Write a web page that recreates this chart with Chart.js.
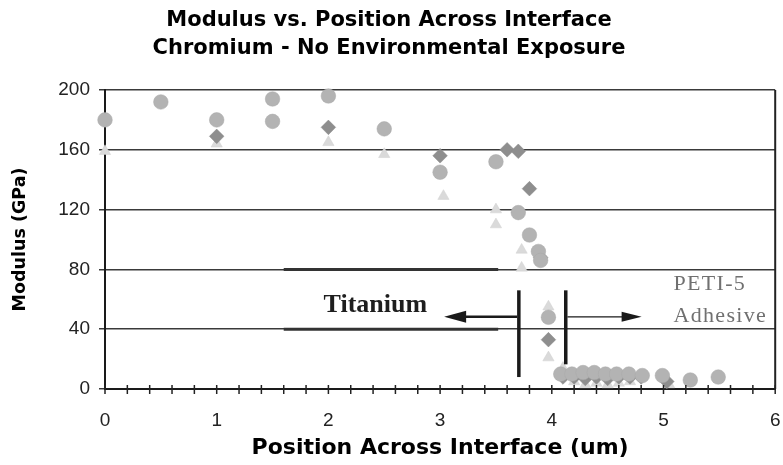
<!DOCTYPE html>
<html><head><meta charset="utf-8">
<script src="https://cdn.jsdelivr.net/npm/chart.js@4"></script>
<style>html,body{margin:0;padding:0;background:#fff}#wrap{width:783px;height:465px}</style>
</head><body><div id="wrap"><canvas id="c" width="783" height="465"></canvas></div>
<script>
const titleLines = ['Modulus vs. Position Across Interface', 'Chromium - No Environmental Exposure'];
const xTitle = 'Position Across Interface (um)';
const yTitle = 'Modulus (GPa)';
const yTicks = [0, 40, 80, 120, 160, 200];
const xTicks = [0, 1, 2, 3, 4, 5, 6];
const xMinorPerUnit = 5;

// series 1: circles
const circleX = [0, 0.5, 1, 1.5, 1.5, 2, 2.5, 3, 3.5, 3.7, 3.8, 3.88, 3.9, 3.97, 4.08, 4.18, 4.28, 4.38, 4.48, 4.58, 4.69, 4.81, 4.99, 5.24, 5.49];
const circleY = [180, 192, 180, 194, 179, 196, 174, 145, 152, 118, 103, 92, 86, 48, 10, 10, 11, 11, 10, 10, 10, 9, 9, 6, 8];
// series 2: diamonds
const diamondX = [1, 2, 3, 3.6, 3.7, 3.8, 3.9, 3.97, 4.1, 4.2, 4.3, 4.4, 4.5, 4.6, 4.7, 4.8, 5.03];
const diamondY = [169, 175, 156, 160, 159, 134, 88, 33, 8, 8, 7, 8, 7, 8, 8, 8, 5];
// series 3: triangles
const triangleX = [0, 1, 2, 2.5, 3.03, 3.5, 3.5, 3.73, 3.73, 3.97, 3.97, 4.1, 4.2, 4.3, 4.4, 4.5, 4.6, 4.7, 5.05];
const triangleY = [159, 164, 165, 157, 129, 120, 110, 93, 81, 55, 21, 14, 5, 3, 4, 3, 4, 5, 3];

const zip = (xs, ys) => xs.map((x, i) => ({x, y: ys[i]}));
const SANS = '"DejaVu Sans", Verdana, sans-serif';
const TICKF = '"Liberation Sans", Arial, sans-serif';
const SERIF = '"Liberation Serif", "Times New Roman", serif';

const annotPlugin = {
  id: 'annot',
  beforeDatasetsDraw(chart) {
    const {ctx, scales: {x, y}} = chart;
    ctx.save();
    ctx.strokeStyle = '#333';
    ctx.lineWidth = 3;
    [40, 80].forEach(v => {
      ctx.beginPath();
      ctx.moveTo(x.getPixelForValue(1.6), y.getPixelForValue(v));
      ctx.lineTo(x.getPixelForValue(3.52), y.getPixelForValue(v));
      ctx.stroke();
    });
    ctx.restore();
  },
  afterDatasetsDraw(chart) {
    const {ctx, scales: {x, y}, chartArea: a} = chart;
    const X = v => x.getPixelForValue(v), Y = v => y.getPixelForValue(v);
    ctx.save();
    // right border
    ctx.strokeStyle = '#222'; ctx.lineWidth = 2;
    ctx.beginPath(); ctx.moveTo(X(6), a.top); ctx.lineTo(X(6), a.bottom); ctx.stroke();
    // ticks crossing the x axis
    ctx.lineWidth = 1.5;
    for (let k = 0; k <= (xTicks[xTicks.length - 1] - xTicks[0]) * xMinorPerUnit; k++) {
      const px = X(xTicks[0] + k / xMinorPerUnit);
      ctx.beginPath(); ctx.moveTo(px, a.bottom - 4); ctx.lineTo(px, a.bottom + 5); ctx.stroke();
    }
    // vertical interface bars
    ctx.strokeStyle = '#1a1a1a'; ctx.lineWidth = 3.5;
    ctx.beginPath(); ctx.moveTo(X(3.705), Y(66)); ctx.lineTo(X(3.705), Y(8)); ctx.stroke();
    ctx.beginPath(); ctx.moveTo(X(4.125), Y(66)); ctx.lineTo(X(4.125), Y(16.5)); ctx.stroke();
    // left arrow
    const ay = Y(48.3);
    const lt = X(3.036);
    ctx.fillStyle = '#1a1a1a';
    ctx.lineWidth = 2.5;
    ctx.beginPath(); ctx.moveTo(lt + 18, ay); ctx.lineTo(X(3.69), ay); ctx.stroke();
    ctx.beginPath(); ctx.moveTo(lt, ay); ctx.lineTo(lt + 22, ay - 6); ctx.lineTo(lt + 22, ay + 6); ctx.closePath(); ctx.fill();
    // right arrow
    const rt = X(4.804);
    ctx.lineWidth = 1.2;
    ctx.beginPath(); ctx.moveTo(X(4.14), ay); ctx.lineTo(rt - 15, ay); ctx.stroke();
    ctx.beginPath(); ctx.moveTo(rt, ay); ctx.lineTo(rt - 20, ay - 5); ctx.lineTo(rt - 20, ay + 5); ctx.closePath(); ctx.fill();
    // texts
    ctx.textBaseline = 'alphabetic';
    ctx.fillStyle = '#1e1e1e';
    ctx.font = 'bold 26px ' + SERIF;
    ctx.textAlign = 'center';
    ctx.fillText('Titanium', X(2.42), Y(51.5));
    ctx.fillStyle = '#707070';
    ctx.font = '22px ' + SERIF;
    ctx.textAlign = 'left';
    try { ctx.letterSpacing = '1.3px'; } catch (e) {}
    ctx.fillText('PETI-5', X(5.09), Y(66));
    ctx.fillText('Adhesive', X(5.09), Y(44.9));
    ctx.restore();
  }
};

new Chart(document.getElementById('c'), {
  type: 'scatter',
  data: {
    datasets: [
      {label: 'circles', data: zip(circleX, circleY), pointStyle: 'circle', pointRadius: 7.3, clip: false,
       backgroundColor: '#b3b3b3', borderColor: '#a8a8a8', borderWidth: 0.5, pointHoverRadius: 7.3},
      {label: 'diamonds', data: zip(diamondX, diamondY), pointStyle: 'rectRot', pointRadius: 7.3, clip: false,
       backgroundColor: '#8e8e8e', borderColor: '#888', borderWidth: 0.5, pointHoverRadius: 7.3},
      {label: 'triangles', data: zip(triangleX, triangleY), pointStyle: 'triangle', pointRadius: 6.5, clip: false,
       backgroundColor: '#dadada', borderColor: '#d0d0d0', borderWidth: 0.5, pointHoverRadius: 6.5}
    ]
  },
  options: {
    responsive: false,
    animation: false,
    devicePixelRatio: 1,
    layout: {padding: {left: 0, right: 5, top: 0, bottom: 0}},
    plugins: {
      legend: {display: false},
      tooltip: {enabled: false},
      title: {
        display: true, text: titleLines, color: '#000',
        font: {family: SANS, size: 21, weight: 'bold', lineHeight: 1.3333},
        padding: {top: 7, bottom: 27}
      }
    },
    scales: {
      x: {
        type: 'linear', min: 0, max: 6,
        afterBuildTicks: s => {
          const n = (xTicks[xTicks.length - 1] - xTicks[0]) * xMinorPerUnit;
          s.ticks = Array.from({length: n + 1}, (_, k) => ({value: xTicks[0] + k / xMinorPerUnit}));
        },
        afterFit: s => { s.height = 76; },
        ticks: {
          autoSkip: false, maxRotation: 0, padding: 0, color: '#222',
          font: {family: TICKF, size: 19},
          callback: v => xTicks.includes(v) ? String(v) : ''
        },
        grid: {drawOnChartArea: false, tickLength: 20, color: 'rgba(0,0,0,0)'},
        border: {display: true, color: '#1a1a1a', width: 2},
        title: {
          display: true, text: xTitle, color: '#000',
          font: {family: SANS, size: 22, weight: 'bold', lineHeight: 1.2},
          padding: {top: 0, bottom: 4}
        }
      },
      y: {
        type: 'linear', min: 0, max: 200,
        afterBuildTicks: s => { s.ticks = yTicks.map(v => ({value: v})); },
        afterFit: s => { s.width = 105; },
        ticks: {
          padding: 9, color: '#222',
          font: {family: TICKF, size: 19}
        },
        grid: {color: '#3a3a3a', lineWidth: 1.5, tickLength: 6},
        border: {display: true, color: '#1a1a1a', width: 2},
        title: {
          display: true, text: yTitle, color: '#000',
          font: {family: SANS, size: 17.5, weight: 'bold', lineHeight: 1.2},
          padding: {top: 9.5, bottom: 0}
        }
      }
    }
  },
  plugins: [annotPlugin]
});
</script>
</body></html>
